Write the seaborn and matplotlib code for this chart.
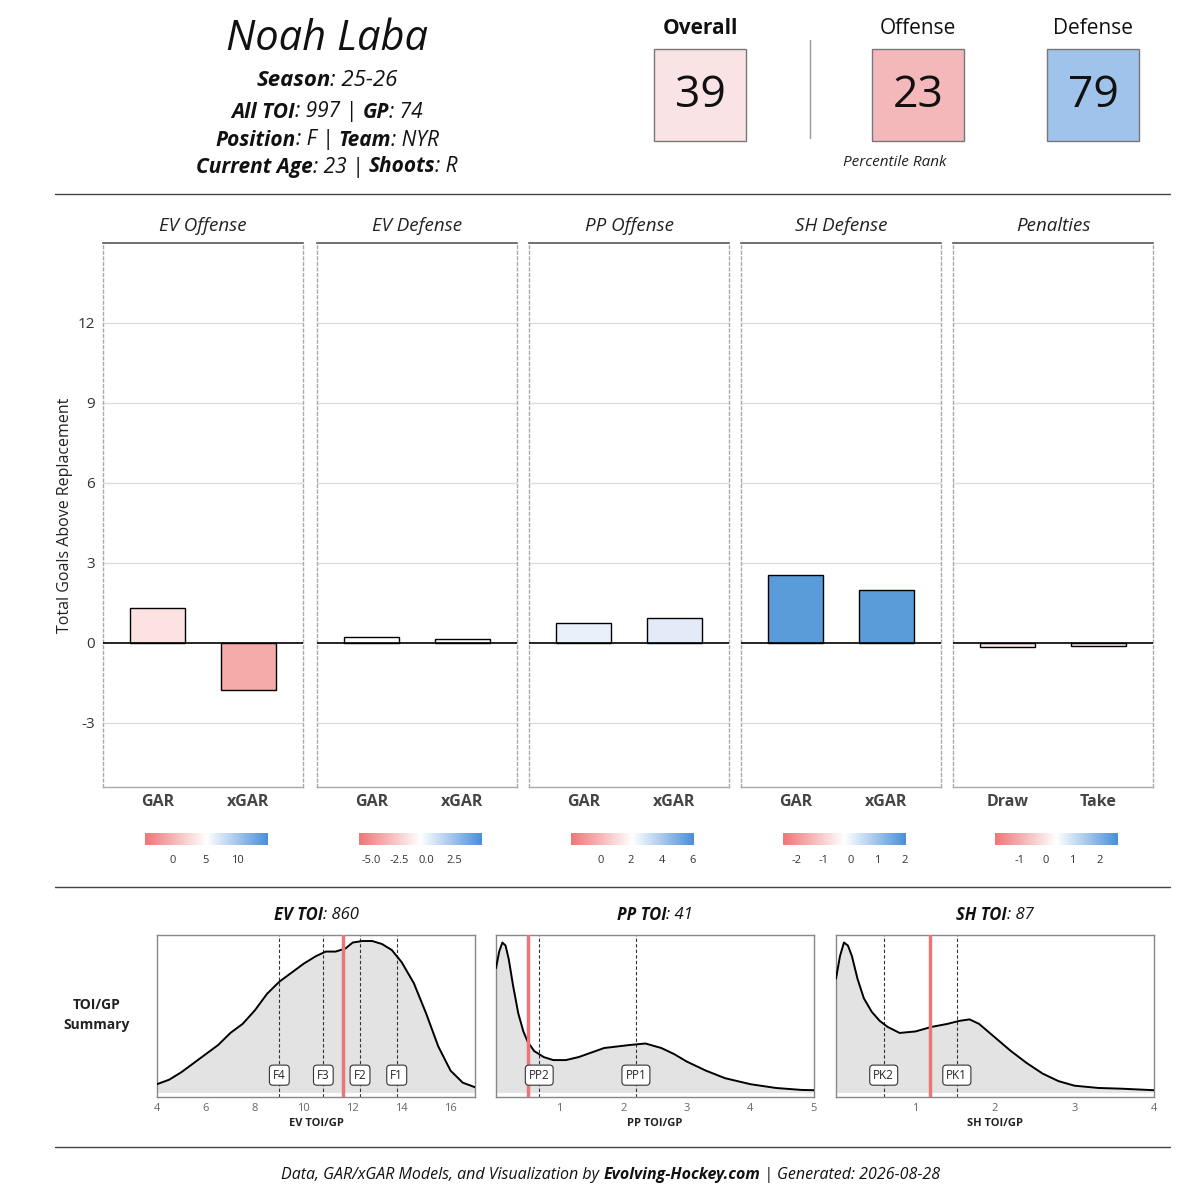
import matplotlib
matplotlib.use("Agg")
import matplotlib.pyplot as plt
import seaborn as sns
import numpy as np
import pandas as pd
from matplotlib.colors import LinearSegmentedColormap

sns.set_theme(style="white")
plt.rcParams['font.family'] = ['Open Sans', 'DejaVu Sans']

# ---------------- data ----------------
player = "Noah Laba"
season = "25-26"; all_toi = "997"; gp = "74"; position = "F"; team = "NYR"; age = "23"; shoots = "R"
ranks = {"Overall": 39, "Offense": 23, "Defense": 79}

panels = ["EV Offense", "EV Defense", "PP Offense", "SH Defense", "Penalties"]
cats = [["GAR", "xGAR"], ["GAR", "xGAR"], ["GAR", "xGAR"], ["GAR", "xGAR"], ["Draw", "Take"]]
vals = [[1.3, -1.78], [0.22, 0.15], [0.75, 0.95], [2.55, 1.99], [-0.14, -0.12]]
cb_ranges = [(-4.4, 14.8), (-6.1, 5.0), (-1.9, 6.1), (-2.5, 2.05), (-1.9, 2.7)]
cb_ticks = [[0, 5, 10], [-5.0, -2.5, 0.0, 2.5], [0, 2, 4, 6], [-2, -1, 0, 1, 2], [-1, 0, 1, 2]]
cb_labels = [["0", "5", "10"], ["-5.0", "-2.5", "0.0", "2.5"], ["0", "2", "4", "6"],
             ["-2", "-1", "0", "1", "2"], ["-1", "0", "1", "2"]]

ev_x = [4, 4.5, 5, 5.5, 6, 6.5, 7, 7.5, 8, 8.5, 9, 9.5, 10, 10.5, 10.9, 11.3, 11.7, 12, 12.4, 12.8, 13.2, 13.6, 14, 14.5, 15, 15.5, 16, 16.5, 17]
ev_y = [0.05, 0.08, 0.13, 0.19, 0.25, 0.31, 0.39, 0.45, 0.54, 0.65, 0.73, 0.79, 0.85, 0.9, 0.93, 0.93, 0.95, 0.99, 1.0, 1.0, 0.98, 0.94, 0.86, 0.72, 0.52, 0.3, 0.14, 0.06, 0.03]
pp_x = [0, 0.05, 0.1, 0.15, 0.2, 0.27, 0.35, 0.43, 0.5, 0.6, 0.75, 0.9, 1.1, 1.3, 1.5, 1.7, 1.9, 2.1, 2.35, 2.6, 2.8, 3.0, 3.3, 3.6, 4.0, 4.4, 4.8, 5.0]
pp_y = [0.82, 0.93, 0.99, 0.97, 0.88, 0.7, 0.52, 0.4, 0.33, 0.27, 0.23, 0.21, 0.21, 0.23, 0.26, 0.29, 0.3, 0.31, 0.32, 0.29, 0.25, 0.2, 0.14, 0.09, 0.05, 0.025, 0.012, 0.01]
sh_x = [0, 0.05, 0.1, 0.15, 0.2, 0.27, 0.35, 0.45, 0.55, 0.65, 0.8, 1.0, 1.2, 1.4, 1.55, 1.68, 1.8, 2.0, 2.2, 2.4, 2.6, 2.8, 3.0, 3.3, 3.6, 4.0]
sh_y = [0.75, 0.9, 0.99, 0.97, 0.9, 0.75, 0.62, 0.53, 0.47, 0.43, 0.39, 0.4, 0.43, 0.45, 0.47, 0.48, 0.45, 0.36, 0.27, 0.19, 0.12, 0.07, 0.04, 0.025, 0.02, 0.01]

toi_titles = [("EV TOI", "860"), ("PP TOI", "41"), ("SH TOI", "87")]
toi_xlabels = ["EV TOI/GP", "PP TOI/GP", "SH TOI/GP"]
toi_player = [11.6, 0.5, 1.18]
toi_marks = [[("F4", 9.0), ("F3", 10.8), ("F2", 12.3), ("F1", 13.8)],
             [("PP2", 0.68), ("PP1", 2.2)],
             [("PK2", 0.6), ("PK1", 1.52)]]
toi_xlim = [(4, 17), (0, 5), (0, 4)]
toi_ticks = [[4, 6, 8, 10, 12, 14, 16], [1, 2, 3, 4, 5], [1, 2, 3, 4]]

# ---------------- figure ----------------
W, H = 1179, 1200
fig = plt.figure(figsize=(W / 100, H / 100), dpi=100)
fig.patch.set_facecolor("white")

def ax_px(x0, y0, x1, y1):
    return fig.add_axes([x0 / W, 1 - y1 / H, (x1 - x0) / W, (y1 - y0) / H])

def fx(x): return x / W
def fy(y): return 1 - y / H

renderer = fig.canvas.get_renderer()

def rich_line(parts, xc, y, size):
    texts = []
    for t, w in parts:
        texts.append(fig.text(0, fy(y), t, fontsize=size, style="italic", weight=w,
                              va="center", ha="left", color="#111111"))
    widths = [tx.get_window_extent(renderer).width for tx in texts]
    total = sum(widths)
    x = xc - total / 2
    for tx, wd in zip(texts, widths):
        tx.set_x(fx(x)); x += wd

fig.text(fx(327), fy(39), player, fontsize=30, style="italic", ha="center", va="center", color="#111111")
rich_line([("Season", "bold"), (": " + season, "normal")], 327, 80, 16)
rich_line([("All TOI", "bold"), (": " + all_toi + " | ", "normal"), ("GP", "bold"), (": " + gp, "normal")], 327, 112, 15)
rich_line([("Position", "bold"), (": " + position + " | ", "normal"), ("Team", "bold"), (": " + team, "normal")], 327, 140, 15)
rich_line([("Current Age", "bold"), (": " + age + " | ", "normal"), ("Shoots", "bold"), (": " + shoots, "normal")], 327, 167, 15)

box_specs = [("Overall", 700, "#f9e3e5", "bold"), ("Offense", 918, "#f4b8bb", "normal"), ("Defense", 1093, "#9fc3ea", "normal")]
for name, cx, col, wt in box_specs:
    fig.text(fx(cx), fy(28), name, fontsize=15, weight=wt, ha="center", va="center", color="#111111")
    fig.patches.append(plt.Rectangle((fx(cx - 46), fy(141)), 92 / W, 92 / H, transform=fig.transFigure,
                                     facecolor=col, edgecolor="#777777", lw=1))
    fig.text(fx(cx), fy(96), str(ranks[name]), fontsize=32, ha="center", va="center", color="#111111")
fig.lines.append(plt.Line2D([fx(810), fx(810)], [fy(40), fy(138)], transform=fig.transFigure, color="#999999", lw=1))
fig.text(fx(895), fy(163), "Percentile Rank", fontsize=11, style="italic", ha="center", va="center", color="#222222")

for yy in [194, 887, 1147]:
    fig.lines.append(plt.Line2D([fx(55), fx(1170)], [fy(yy), fy(yy)], transform=fig.transFigure, color="#444444", lw=1))

cmap = LinearSegmentedColormap.from_list("rwb", ["#ee7777", "#ffffff", "#4a8fd8"])
bar_colors = [["#fde2e2", "#f6abab"], ["#ffffff", "#fbfbfd"], ["#eaf0fa", "#e3ebf9"], ["#5a9bd9", "#5a9bd9"], ["#fae8e8", "#faeaea"]]

px0 = [103, 317, 529, 741, 953]
pw = 200
for i, name in enumerate(panels):
    ax = ax_px(px0[i], 243, px0[i] + pw, 787)
    df = pd.DataFrame({"cat": cats[i], "val": vals[i]})
    sns.barplot(data=df, x="cat", y="val", hue="cat", palette=bar_colors[i], legend=False, saturation=1,
                width=0.6, edgecolor="black", linewidth=1, ax=ax, zorder=3)
    ax.set_xlim(-0.6, 1.6)
    ax.set_ylim(-5.4, 15)
    ax.set_yticks([-3, 0, 3, 6, 9, 12])
    for g in [-3, 3, 6, 9, 12]:
        ax.axhline(g, color="#dddddd", lw=1, zorder=1)
    ax.axhline(0, color="black", lw=1.2, zorder=4)
    ax.set_xlabel(""); ax.set_ylabel("")
    ax.tick_params(axis="x", length=0, labelsize=11.5, colors="#444444", pad=5)
    for lab in ax.get_xticklabels():
        lab.set_fontweight("bold")
    if i == 0:
        ax.tick_params(axis="y", length=0, labelsize=11, colors="#333333", pad=6)
        ax.set_yticklabels(["-3", "0", "3", "6", "9", "12"])
    else:
        ax.set_yticklabels([])
        ax.tick_params(axis="y", length=0)
    for s in ["left", "right"]:
        ax.spines[s].set_linestyle((0, (2, 2))); ax.spines[s].set_color("#aaaaaa"); ax.spines[s].set_linewidth(1)
    ax.spines["top"].set_color("#666666"); ax.spines["top"].set_linewidth(1.3)
    ax.spines["bottom"].set_color("#aaaaaa"); ax.spines["bottom"].set_linewidth(1)
    fig.text(fx(px0[i] + pw / 2), fy(226), name, fontsize=13.5, style="italic", ha="center", va="center", color="#222222")

    lo, hi = cb_ranges[i]
    cax = ax_px(px0[i] + 42, 833, px0[i] + 165, 845)
    grad = np.linspace(0, 1, 256)[None, :]
    cax.imshow(grad, aspect="auto", cmap=cmap, extent=[lo, hi, 0, 1])
    cax.set_xlim(lo, hi)
    cax.set_yticks([])
    cax.set_xticks(cb_ticks[i]); cax.set_xticklabels(cb_labels[i])
    cax.tick_params(axis="x", length=0, labelsize=8, colors="#333333", pad=7)
    for s in cax.spines.values(): s.set_visible(False)

fig.text(fx(65), fy(515), "Total Goals Above Replacement", fontsize=11.5, rotation=90, ha="center", va="center", color="#222222")

dx0 = [157, 496, 836]
curves = [(ev_x, ev_y), (pp_x, pp_y), (sh_x, sh_y)]
for i in range(3):
    ax = ax_px(dx0[i], 935, dx0[i] + 318, 1097)
    cx, cy = curves[i]
    dfc = pd.DataFrame({"x": cx, "y": cy})
    ax.fill_between(dfc["x"], 0, dfc["y"], color="#e3e3e3", zorder=1)
    sns.lineplot(data=dfc, x="x", y="y", color="black", lw=1.4, ax=ax, zorder=3)
    ax.set_xlim(*toi_xlim[i]); ax.set_ylim(-0.035, 1.04)
    for lab, xv in toi_marks[i]:
        ax.axvline(xv, color="#333333", lw=0.8, ls=(0, (3, 2)), zorder=2)
        ax.text(xv, 0.11, lab, fontsize=8.5, ha="center", va="center", zorder=5,
                bbox=dict(boxstyle="round,pad=0.3", fc="white", ec="#333333", lw=0.8))
    ax.axvline(toi_player[i], color="#e87878", lw=2.5, zorder=4)
    ax.set_yticks([])
    ax.set_xticks(toi_ticks[i])
    ax.tick_params(axis="x", length=0, labelsize=8, colors="#666666", pad=4)
    ax.set_xlabel(toi_xlabels[i], fontsize=8, weight="bold", color="#222222", labelpad=3)
    ax.set_ylabel("")
    for s in ax.spines.values(): s.set_color("#888888"); s.set_linewidth(1)
    t, v = toi_titles[i]
    rich_line([(t, "bold"), (": " + v, "normal")], dx0[i] + 159, 915, 12)

fig.text(fx(97), fy(1005), "TOI/GP", fontsize=10, weight="bold", ha="center", va="center", color="#222222")
fig.text(fx(97), fy(1025), "Summary", fontsize=10, weight="bold", ha="center", va="center", color="#222222")

rich_line([("Data, GAR/xGAR Models, and Visualization by ", "normal"), ("Evolving-Hockey.com", "bold"),
           (" | Generated: 2026-08-28", "normal")], 611, 1175, 11.5)

fig.savefig("out.png", dpi=100, facecolor="white")
